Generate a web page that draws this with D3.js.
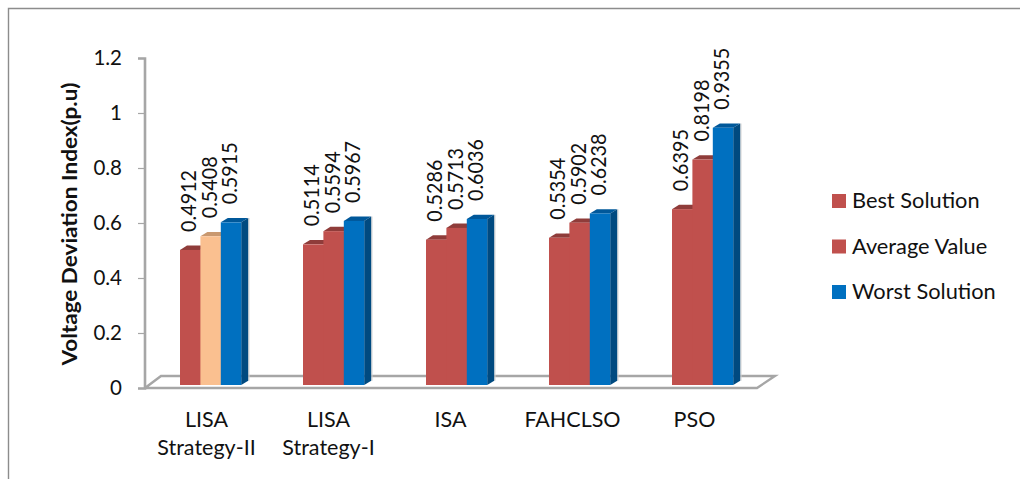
<!DOCTYPE html>
<html><head><meta charset="utf-8">
<script src="https://cdnjs.cloudflare.com/ajax/libs/d3/7.8.5/d3.min.js"></script>
<style>
html,body{margin:0;padding:0;background:#fff}
svg{display:block}
text{font-family:Lato,"Open Sans",sans-serif;fill:#111}
</style></head><body>
<svg id="c" width="1020" height="479"></svg>
<script>
const categories=[["LISA","Strategy-II"],["LISA","Strategy-I"],["ISA"],["FAHCLSO"],["PSO"]];
const categoryKeys=["LISA Strategy-II","LISA Strategy-I","ISA","FAHCLSO","PSO"];
const seriesNames=["Best Solution","Average Value","Worst Solution"];
const bestSolution=[0.4912,0.5114,0.5286,0.5354,0.6395];
const averageValue=[0.5408,0.5594,0.5713,0.5902,0.8198];
const worstSolution=[0.5915,0.5967,0.6036,0.6238,0.9355];
const yTicks=[0,0.2,0.4,0.6,0.8,1,1.2];
const yTitle="Voltage Deviation Index(p.u)";

const seriesValues=[bestSolution,averageValue,worstSolution];
const palette=[
 {front:"#c0504d",top:"#8f3c3a",side:"#8f3c3a"},
 {front:"#c0504d",top:"#8f3c3a",side:"#8f3c3a"},
 {front:"#0070c0",top:"#00589a",side:"#004a80"}];
const highlight={front:"#fac090",top:"#c9986f",side:"#c9986f"};

const svg=d3.select("#c");
const y=d3.scaleLinear().domain([0,1.2]).range([385,55]);
const xBars=d3.scalePoint().domain(categoryKeys).range([180,672]);
const xLabels=d3.scalePoint().domain(categoryKeys).range([206.5,694.5]);
const barW=20.4,dx=7,dy=4.3;
const gray="#a6a6a6";

// frame
svg.append("path").attr("d","M8.5,479V8.5H1020").attr("fill","none").attr("stroke","#8c8c8c").attr("stroke-width",1.4);

// floor
const floor=d3.line();
svg.append("path").attr("d",floor([[145,388],[161,376],[775,376],[757,388],[145,388]]))
  .attr("fill","none").attr("stroke",gray).attr("stroke-width",2.4);

// y axis
const gy=svg.append("g").attr("transform","translate(145,3)")
  .call(d3.axisLeft(y).tickValues(yTicks).tickSize(7).tickPadding(16).tickFormat(d=>String(d)));
gy.select(".domain").attr("stroke",gray).attr("stroke-width",2.6).attr("d","M-7,55.5H0V385.5H-7");
gy.selectAll(".tick line").attr("stroke",gray).attr("stroke-width",1.2);
gy.selectAll(".tick text").attr("font-size",20.5).attr("font-family","Lato").attr("fill","#111");

// y title
svg.append("text").attr("transform","translate(77,224) rotate(-90)")
  .attr("text-anchor","middle").attr("font-size",20.5).attr("font-weight",700).attr("textLength",283).attr("lengthAdjust","spacingAndGlyphs").text(yTitle);

// bars
seriesValues.forEach((vals,s)=>{
  const g=svg.append("g");
  vals.forEach((v,i)=>{
    const c=(s===1&&i===0)?highlight:palette[s];
    const x0=xBars(categoryKeys[i])+s*barW, x1=x0+barW, t=y(v), b=y(0);
    g.append("path").attr("d",floor([[x0,t],[x0+dx,t-dy],[x1+dx,t-dy],[x1,t]])+"Z").attr("fill",c.top);
    if(s===2){
      g.append("path").attr("d",floor([[x1+dx+0.7,t-dy],[x1+dx+0.7,b-dy]])).attr("stroke","#d4d4d4").attr("stroke-width",1.2);
      g.append("path").attr("d",floor([[x1,t],[x1+dx,t-dy],[x1+dx,b-dy],[x1,b]])+"Z").attr("fill",c.side);
    }
    g.append("rect").attr("x",x0).attr("y",t).attr("width",barW+(s<2?0.6:0)).attr("height",b-t).attr("fill",c.front);
    svg.append("text").datum(v)
      .attr("transform",`translate(${x0+barW/2+6},${t-18}) rotate(-90) scale(0.92,1)`)
      .attr("font-size",21.5).text(d3.format(".4f")(v));
  });
});

// category labels
categoryKeys.forEach((k,i)=>{
  const t=svg.append("text").attr("text-anchor","middle").attr("font-size",21.5);
  const lines=categories[i];
  lines.forEach((ln,j)=>t.append("tspan").attr("x",xLabels(k)).attr("y",427+j*28).text(ln));
});

// legend
const ly=d3.scalePoint().domain(seriesNames).range([201,292]);
seriesNames.forEach((n,i)=>{
  svg.append("rect").attr("x",832).attr("y",ly(n)-7).attr("width",14).attr("height",14).attr("fill",palette[i].front);
  svg.append("text").attr("x",852).attr("y",ly(n)+7).attr("font-size",21.8).text(n);
});
</script></body></html>
